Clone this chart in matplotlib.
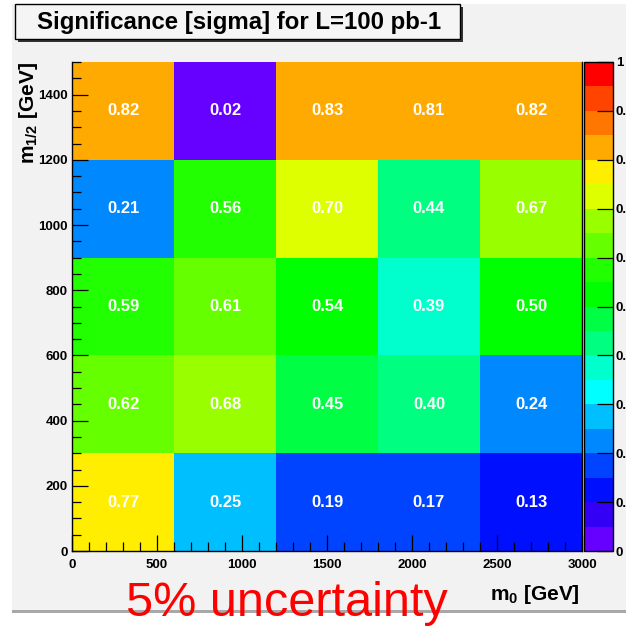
import numpy as np
import matplotlib
matplotlib.use("Agg")
import matplotlib.pyplot as plt
from matplotlib.colors import ListedColormap, BoundaryNorm
from matplotlib.patches import Rectangle
from matplotlib.ticker import MultipleLocator, FixedLocator, FixedFormatter

plt.rcParams['font.family'] = ['Liberation Sans', 'DejaVu Sans']
plt.rcParams['mathtext.fontset'] = 'custom'
plt.rcParams['mathtext.bf'] = 'Liberation Sans:bold'
plt.rcParams['mathtext.rm'] = 'Liberation Sans:bold'

# bin edges (m0 in GeV, m1/2 in GeV)
m0_edges = [0, 600, 1200, 1800, 2400, 3000]
m12_edges = [0, 300, 600, 900, 1200, 1500]

# significance, rows from low m1/2 to high m1/2
sig_row0 = [0.77, 0.25, 0.19, 0.17, 0.13]
sig_row1 = [0.62, 0.68, 0.45, 0.40, 0.24]
sig_row2 = [0.59, 0.61, 0.54, 0.39, 0.50]
sig_row3 = [0.21, 0.56, 0.70, 0.44, 0.67]
sig_row4 = [0.82, 0.02, 0.83, 0.81, 0.82]
sig = np.array([sig_row0, sig_row1, sig_row2, sig_row3, sig_row4])

# ROOT-like 20 step palette, bottom to top
palette = ['#6600ff', '#3300f5', '#0010ff', '#0044ff', '#0088ff',
           '#00bfff', '#00ffff', '#00ffcc', '#00ff80', '#00ff44',
           '#00ff00', '#22ff00', '#66ff00', '#99ff00', '#ddff00',
           '#ffee00', '#ffaa00', '#ff7700', '#ff4400', '#ff0000']
levels = np.arange(21) / 20
cmap = ListedColormap(palette)
norm = BoundaryNorm(levels, cmap.N)

W, H = 626, 628
fig = plt.figure(figsize=(W / 100, H / 100), dpi=100)
fig.patch.set_facecolor('white')


def fx(px):
    return px / W


def fy(py):
    return 1 - py / H


# gray pad background + bottom shadow line
fig.patches.append(Rectangle((fx(12), fy(610)), fx(626) - fx(12), fy(4) - fy(610),
                             transform=fig.transFigure, facecolor='#f2f2f2',
                             edgecolor='none', zorder=-5))
fig.patches.append(Rectangle((fx(12), fy(613)), fx(626) - fx(12), fy(610) - fy(613),
                             transform=fig.transFigure, facecolor='#a8a8a8',
                             edgecolor='none', zorder=-5))

ax = fig.add_axes([fx(72), fy(551), fx(510), (551 - 62) / H])
ax.set_facecolor('none')
mesh = ax.pcolormesh(m0_edges, m12_edges, sig, cmap=cmap, norm=norm)
ax.set_xlim(0, 3000)
ax.set_ylim(0, 1500)

xc = [(a + b) / 2 for a, b in zip(m0_edges[:-1], m0_edges[1:])]
yc = [(a + b) / 2 for a, b in zip(m12_edges[:-1], m12_edges[1:])]
for i, y in enumerate(yc):
    for j, x in enumerate(xc):
        ax.text(x, y, f"{sig[i, j]:.2f}", color='white', fontsize=12,
                fontweight='bold', ha='center', va='center')

ax.xaxis.set_major_locator(MultipleLocator(500))
ax.xaxis.set_minor_locator(MultipleLocator(100))
ax.yaxis.set_major_locator(MultipleLocator(200))
ax.yaxis.set_minor_locator(MultipleLocator(50))
ax.tick_params(which='both', direction='in', width=0.9, color='black',
               labelsize=9.5, top=False, right=False)
ax.tick_params(which='major', length=11.5)
ax.tick_params(which='minor', length=6.5)
ax.tick_params(axis='x', pad=6)
ax.tick_params(axis='y', pad=3)
for lab in ax.get_xticklabels() + ax.get_yticklabels():
    lab.set_fontweight('bold')
ax.spines['top'].set_visible(False)
for s in ['left', 'bottom', 'right']:
    ax.spines[s].set_linewidth(1.0)

# palette axis
cax = fig.add_axes([fx(584), fy(551), fx(29), (551 - 62) / H])
cb = fig.colorbar(mesh, cax=cax, boundaries=levels, drawedges=False)
cb.outline.set_linewidth(1.0)
cticks = [0, 0.1, 0.2, 0.3, 0.4, 0.5, 0.6, 0.7, 0.8, 0.9, 1.0]
ctick_labels = ['0', '0.1', '0.2', '0.3', '0.4', '0.5', '0.6', '0.7', '0.8', '0.9', '1']
cax.yaxis.set_major_locator(FixedLocator(cticks))
cax.yaxis.set_major_formatter(FixedFormatter(ctick_labels))
cax.yaxis.set_minor_locator(FixedLocator([]))
cax.tick_params(direction='in', length=11.5, width=0.9, labelsize=9.5, pad=2)
for lab in cax.get_yticklabels():
    lab.set_fontweight('bold')

# axis titles
fig.text(fx(580), fy(595), r"$\mathbf{m_0}$ [GeV]", ha='right', va='center',
         fontsize=15, fontweight='bold')
fig.text(fx(29), fy(62), r"$\mathbf{m_{1/2}}$ [GeV]", ha='center', va='top',
         rotation=90, fontsize=15, fontweight='bold')

# title box with shadow
fig.patches.append(Rectangle((fx(18), fy(42)), fx(445), (42 - 7) / H,
                             transform=fig.transFigure, facecolor='#333333',
                             edgecolor='none', zorder=2))
fig.patches.append(Rectangle((fx(15), fy(39)), fx(445), (39 - 4) / H,
                             transform=fig.transFigure, facecolor='#f5f5f5',
                             edgecolor='black', linewidth=1.0, zorder=3))
fig.text(fx(239), fy(22), "Significance [sigma] for L=100 pb-1", ha='center',
         va='center', fontsize=17.3, fontweight='bold', zorder=4)

fig.text(fx(287), fy(604), "5% uncertainty", color='#ff0000', ha='center',
         va='center', fontsize=35, zorder=5)

fig.savefig("out.png", dpi=100)
